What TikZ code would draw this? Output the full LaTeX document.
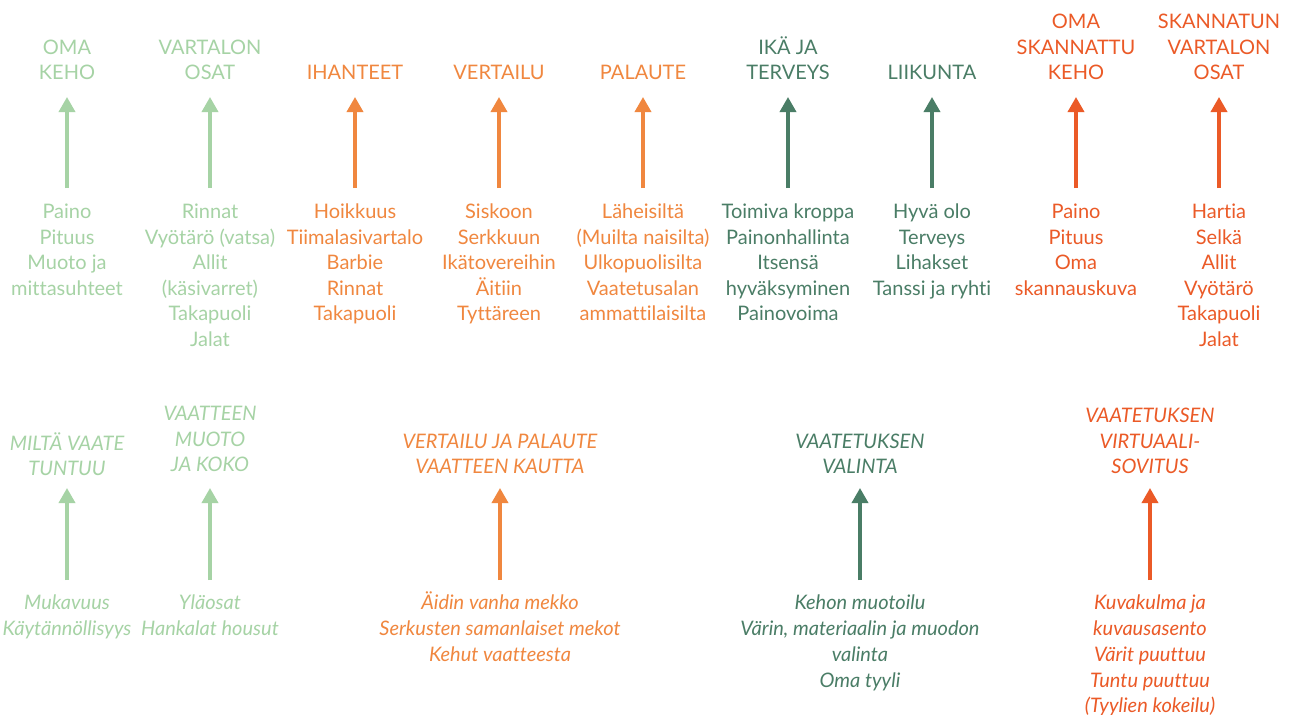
\documentclass[tikz,border=0pt]{standalone}
\usepackage{fontspec}
\setmainfont{Lato}[Ligatures={NoCommon,NoContextual}]
\usetikzlibrary{arrows.meta}
\definecolor{lgreen}{HTML}{A6D3A5}
\definecolor{orng}{HTML}{F0873F}
\definecolor{dgreen}{HTML}{4A7D66}
\definecolor{rorng}{HTML}{EB5A27}
\begin{document}
\begin{tikzpicture}[x=1pt,y=-1pt,
  txt/.style={align=center,inner sep=0pt,font=\fontsize{20}{25.5}\selectfont},
  ttl/.style={txt,anchor=south},
  itm/.style={txt,anchor=north},
  ittl/.style={ttl,font=\fontsize{20}{25.5}\selectfont\itshape},
  iitm/.style={itm,font=\fontsize{20}{25.7}\selectfont\itshape},
  arr/.style={line width=3.5pt,-{Triangle[width=16pt,length=15pt]}}]
\useasboundingbox[fill=white] (0,0) rectangle (1302,715);
% ---------- top row ----------
\node[ttl,lgreen] (t1) at (67,80) {OMA\\KEHO};
\node[ttl,lgreen] (t2) at (210,80) {VARTALON\\OSAT};
\node[ttl,orng] (t3) at (355,80) {IHANTEET};
\node[ttl,orng] (t4) at (499,80) {VERTAILU};
\node[ttl,orng] (t5) at (643,80) {PALAUTE};
\node[ttl,dgreen] (t6) at (788,80) {IKÄ JA\\TERVEYS};
\node[ttl,dgreen] (t7) at (932,80) {LIIKUNTA};
\node[ttl,rorng] (t8) at (1076,80) {OMA\\SKANNATTU\\KEHO};
\node[ttl,rorng] (t9) at (1219,80) {SKANNATUN\\VARTALON\\OSAT};
\node[itm,lgreen] (i1) at (67,204) {Paino\\Pituus\\Muoto ja\\mittasuhteet};
\node[itm,lgreen] (i2) at (210,204) {Rinnat\\Vyötärö (vatsa)\\Allit\\(käsivarret)\\Takapuoli\\Jalat};
\node[itm,orng] (i3) at (355,204) {Hoikkuus\\Tiimalasivartalo\\Barbie\\Rinnat\\Takapuoli};
\node[itm,orng] (i4) at (499,204) {Siskoon\\Serkkuun\\Ikätovereihin\\Äitiin\\Tyttäreen};
\node[itm,orng] (i5) at (643,204) {Läheisiltä\\(Muilta naisilta)\\Ulkopuolisilta\\Vaatetusalan\\ammattilaisilta};
\node[itm,dgreen] (i6) at (788,204) {Toimiva kroppa\\Painonhallinta\\Itsensä\\hyväksyminen\\Painovoima};
\node[itm,dgreen] (i7) at (932,204) {Hyvä olo\\Terveys\\Lihakset\\Tanssi ja ryhti};
\node[itm,rorng] (i8) at (1076,204) {Paino\\Pituus\\Oma\\skannauskuva};
\node[itm,rorng] (i9) at (1219,204) {Hartia\\Selkä\\Allit\\Vyötärö\\Takapuoli\\Jalat};
\foreach \n/\c in {1/lgreen,2/lgreen,3/orng,4/orng,5/orng,6/dgreen,7/dgreen,8/rorng,9/rorng}
  \draw[arr,\c,shorten <=16pt,shorten >=17pt] (i\n.north) -- (t\n.south);
% ---------- bottom row ----------
\node[ittl,lgreen] (b1) at (67,476) {MILTÄ VAATE\\TUNTUU};
\node[ittl,lgreen] (b2) at (210,472) {VAATTEEN\\MUOTO\\JA KOKO};
\node[ittl,orng] (b3) at (500,474) {VERTAILU JA PALAUTE\\VAATTEEN KAUTTA};
\node[ittl,dgreen] (b4) at (860,474) {VAATETUKSEN\\VALINTA};
\node[ittl,rorng] (b5) at (1150,474) {VAATETUKSEN\\VIRTUAALI-\\SOVITUS};
\node[iitm,lgreen] (j1) at (67,595) {Mukavuus\\Käytännöllisyys};
\node[iitm,lgreen] (j2) at (210,595) {Yläosat\\Hankalat housut};
\node[iitm,orng] (j3) at (500,592) {Äidin vanha mekko\\Serkusten samanlaiset mekot\\Kehut vaatteesta};
\node[iitm,dgreen] (j4) at (860,595) {Kehon muotoilu\\Värin, materiaalin ja muodon\\valinta\\Oma tyyli};
\node[iitm,rorng] (j5) at (1150,595) {Kuvakulma ja\\kuvausasento\\Värit puuttuu\\Tuntu puuttuu\\(Tyylien kokeilu)};
\draw[arr,lgreen,shorten <=15pt,shorten >=12pt] (j1.north) -- (b1.south);
\draw[arr,lgreen,shorten <=15pt,shorten >=16pt] (j2.north) -- (b2.south);
\draw[arr,orng,shorten <=12pt,shorten >=14pt] (j3.north) -- (b3.south);
\draw[arr,dgreen,shorten <=15pt,shorten >=14pt] (j4.north) -- (b4.south);
\draw[arr,rorng,shorten <=15pt,shorten >=14pt] (j5.north) -- (b5.south);
\end{tikzpicture}
\end{document}
